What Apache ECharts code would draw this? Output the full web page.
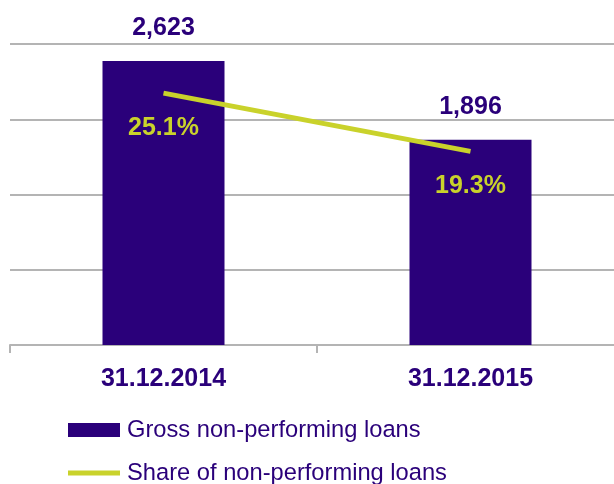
<!DOCTYPE html>
<html><head><meta charset="utf-8">
<script src="https://cdn.jsdelivr.net/npm/echarts@6/dist/echarts.min.js"></script>
<style>html,body{margin:0;padding:0;background:#fff}#c{width:614px;height:484px}</style>
</head><body><div id="c"></div>
<script>
const categories = ['31.12.2014', '31.12.2015'];
const grossNPL = [2623, 1896];
const shareNPL = [25.1, 19.3];
const seriesNames = ['Gross non-performing loans', 'Share of non-performing loans'];

const purple = '#2a007a';
const lime = '#c9d22b';
const font = 'Liberation Sans, Arial, sans-serif';
const chart = echarts.init(document.getElementById('c'));
chart.setOption({
  animation: false,
  textStyle: { fontFamily: font },
  grid: { left: 10, width: 614, top: 44, height: 301, containLabel: false, outerBoundsMode: 'none' },
  legend: [
    { left: 68, top: 418, padding: 0, itemWidth: 52, itemHeight: 14, itemGap: 6,
      textStyle: { color: purple, fontSize: 23.7, fontFamily: font, padding: [0, 0, 0, 2] },
      data: [{ name: seriesNames[0], icon: 'rect' }] },
    { left: 68, top: 461, padding: 0, itemWidth: 52, itemHeight: 5, itemGap: 6,
      textStyle: { color: purple, fontSize: 23.7, fontFamily: font, padding: [0, 0, 0, 2] },
      data: [{ name: seriesNames[1], icon: 'rect', itemStyle: { color: lime } }] }
  ],
  xAxis: {
    type: 'category', data: categories,
    axisLine: { lineStyle: { color: '#b4b4b4', width: 2 } },
    axisTick: { show: true, length: 8, lineStyle: { color: '#b4b4b4', width: 2 } },
    axisLabel: { color: purple, fontSize: 25, fontWeight: 'bold', margin: 22 }
  },
  yAxis: [
    { type: 'value', min: 0, max: 2780, interval: 695, axisLabel: { show: false },
      axisLine: { show: false }, axisTick: { show: false },
      splitLine: { lineStyle: { color: '#b4b4b4', width: 2 } } },
    { type: 'value', min: 0, max: 30, interval: 7.5, show: false, splitLine: { show: false } }
  ],
  series: [
    { name: seriesNames[0], type: 'bar', data: grossNPL, barWidth: 122,
      itemStyle: { color: purple },
      label: { show: true, position: 'top', distance: 20, color: purple, fontSize: 25, fontWeight: 'bold',
        formatter: p => p.value.toLocaleString('en-US') } },
    { name: seriesNames[1], type: 'line', yAxisIndex: 1, data: shareNPL,
      symbol: 'circle', symbolSize: 0.1, showSymbol: true,
      lineStyle: { color: lime, width: 5 }, itemStyle: { color: lime },
      label: { show: true, position: 'bottom', distance: 22, color: lime, fontSize: 25, fontWeight: 'bold',
        formatter: p => p.value.toFixed(1) + '%' } }
  ]
});
</script></body></html>
